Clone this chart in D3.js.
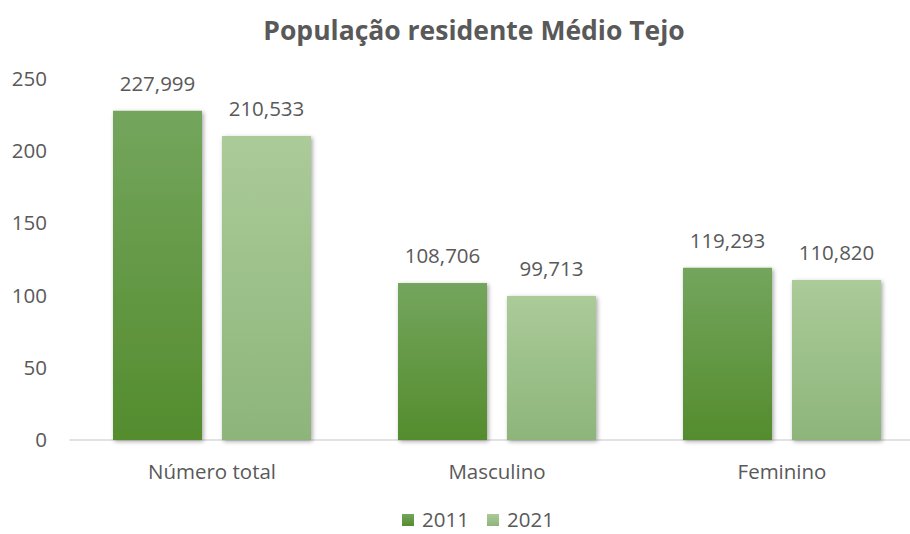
<!DOCTYPE html>
<html>
<head>
<meta charset="utf-8">
<script src="https://cdn.jsdelivr.net/npm/d3@7"></script>
<style>
  body { margin: 0; background: #fff; }
  svg text { font-family: "Open Sans", sans-serif; fill: #595959; }
</style>
</head>
<body>
<div id="chart"></div>
<script>
const categories = ['Número total', 'Masculino', 'Feminino']
const series = ['2011', '2021']
const values2011 = [227.999, 108.706, 119.293]
const values2021 = [210.533, 99.713, 110.820]
const labels2011 = ['227,999', '108,706', '119,293']
const labels2021 = ['210,533', '99,713', '110,820']
const yTicks = [0, 50, 100, 150, 200, 250]

const width = 910
const height = 534
const fontSize = '20.5px'

const svg = d3.select('#chart').append('svg')
    .attr('width', width)
    .attr('height', height)

const defs = svg.append('defs')
const grads = [
    { id: 'g2011', top: '#74a55d', bottom: '#548c2e' },
    { id: 'g2021', top: '#abcb99', bottom: '#8db57a' }
]
grads.forEach(g => {
    const lg = defs.append('linearGradient')
        .attr('id', g.id)
        .attr('x1', 0).attr('y1', 0).attr('x2', 0).attr('y2', 1)
    lg.append('stop').attr('offset', '0%').attr('stop-color', g.top)
    lg.append('stop').attr('offset', '100%').attr('stop-color', g.bottom)
})
const shadow = defs.append('filter').attr('id', 'shadow')
    .attr('x', '-20%').attr('y', '-20%').attr('width', '140%').attr('height', '140%')
shadow.append('feDropShadow')
    .attr('dx', 1.5).attr('dy', 1.5).attr('stdDeviation', 2)
    .attr('flood-color', '#000').attr('flood-opacity', 0.35)

const color = d3.scaleOrdinal().domain(series).range(['url(#g2011)', 'url(#g2021)'])

const x0 = d3.scaleBand().domain(categories).range([69.5, 924.5]).paddingInner(0).paddingOuter(0)
const x1 = d3.scaleBand().domain(series).range([43.5, 241.5]).paddingInner(20 / 109)
const y = d3.scaleLinear().domain([0, 250]).range([440, 79])

// title
svg.append('text')
    .attr('x', 474)
    .attr('y', 31)
    .attr('dy', '0.35em')
    .attr('text-anchor', 'middle')
    .style('font-size', '26.5px')
    .style('font-weight', 'bold')
    .text('População residente Médio Tejo')

// y axis labels
const yAxis = d3.axisLeft(y).tickValues(yTicks).tickSize(0).tickPadding(0)
svg.append('g')
    .attr('transform', 'translate(47,0)')
    .call(yAxis)
    .call(g => g.select('.domain').remove())
    .selectAll('text')
    .style('font-size', fontSize)
    .attr('font-family', null)

// baseline
svg.append('line')
    .attr('x1', 69.5).attr('x2', width)
    .attr('y1', y(0)).attr('y2', y(0))
    .attr('stroke', '#d9d9d9')
    .attr('stroke-width', 1.5)

// x axis labels
const xAxis = d3.axisBottom(x0).tickSize(0).tickPadding(0)
svg.append('g')
    .attr('transform', `translate(0,${y(0) + 24})`)
    .call(xAxis)
    .call(g => g.select('.domain').remove())
    .selectAll('text')
    .style('font-size', fontSize)
    .attr('font-family', null)

const rows = categories.map((c, i) => ({
    cat: c,
    bars: [
        { s: '2011', v: values2011[i], label: labels2011[i] },
        { s: '2021', v: values2021[i], label: labels2021[i] }
    ]
}))

const groups = svg.selectAll('.group')
    .data(rows)
    .enter().append('g')
    .attr('class', 'group')
    .attr('transform', d => `translate(${x0(d.cat)},0)`)

groups.selectAll('rect')
    .data(d => d.bars)
    .enter().append('rect')
    .attr('x', d => x1(d.s))
    .attr('width', x1.bandwidth())
    .attr('y', d => y(d.v))
    .attr('height', d => y(0) - y(d.v))
    .attr('fill', d => color(d.s))
    .attr('filter', 'url(#shadow)')

groups.selectAll('.vlabel')
    .data(d => d.bars)
    .enter().append('text')
    .attr('class', 'vlabel')
    .attr('x', d => x1(d.s) + x1.bandwidth() / 2)
    .attr('y', d => y(d.v) - 20)
    .attr('text-anchor', 'middle')
    .style('font-size', fontSize)
    .text(d => d.label)

// legend
const legendX = [402, 487]
const legend = svg.selectAll('.legend')
    .data(series)
    .enter().append('g')
    .attr('class', 'legend')
    .attr('transform', (d, i) => `translate(${legendX[i]},514)`)

legend.append('rect')
    .attr('width', 12)
    .attr('height', 12)
    .attr('fill', color)

legend.append('text')
    .attr('x', 20)
    .attr('y', 6)
    .attr('dy', '0.35em')
    .style('font-size', fontSize)
    .text(d => d)
</script>
</body>
</html>
